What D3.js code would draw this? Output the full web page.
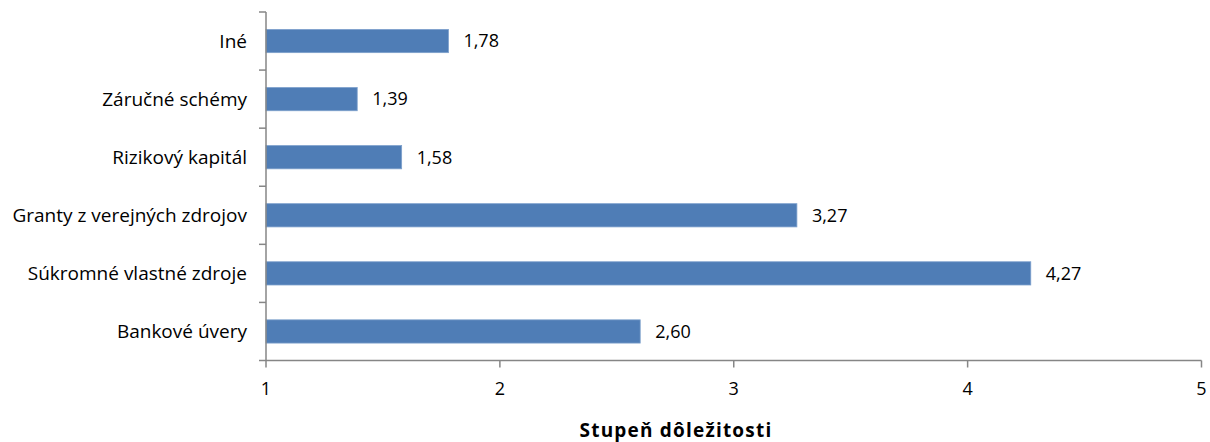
<!DOCTYPE html>
<html><head><meta charset="utf-8">
<script src="https://cdn.jsdelivr.net/npm/d3@7"></script>
<style>body{margin:0;background:#fff}svg text{font-family:"Open Sans","Noto Sans",sans-serif;fill:#000}</style>
</head><body><svg id="c" width="1210" height="442"></svg>
<script>
const categories = ["Iné","Záručné schémy","Rizikový kapitál","Granty z verejných zdrojov","Súkromné vlastné zdroje","Bankové úvery"];
const values = [1.78,1.39,1.58,3.27,4.27,2.60];
const valueLabels = ["1,78","1,39","1,58","3,27","4,27","2,60"];
const xTicks = [1,2,3,4,5];
const axisTitle = "Stupeň dôležitosti";

(function(){
const svg = d3.select("#c");
const mLeft = 266, mRight = 1201.5, mTop = 12, mBottom = 360.5;
const x = d3.scaleLinear().domain([1,5]).range([mLeft,mRight]);
const y = d3.scaleBand().domain(categories).range([mTop,mBottom]).paddingInner(0.6).paddingOuter(0.3);
const band = d3.scaleBand().domain(categories).range([mTop,mBottom]);

svg.selectAll("rect.bar").data(categories).join("rect")
  .attr("x", x(1)).attr("y", d=>y(d))
  .attr("width", (d,i)=>x(values[i])-x(1)).attr("height", y.bandwidth())
  .attr("fill","#4f7db6").attr("stroke","#7da0cc").attr("stroke-width",0.8);

svg.selectAll("text.val").data(categories).join("text")
  .attr("x",(d,i)=>x(values[i])+15).attr("y",d=>y(d)+y.bandwidth()/2)
  .attr("dy","0.35em").attr("font-size",18).text((d,i)=>valueLabels[i]);

const ya = svg.append("g");
ya.append("line").attr("x1",mLeft).attr("x2",mLeft).attr("y1",mTop).attr("y2",mBottom).attr("stroke","#868686").attr("stroke-width",1.5);
const bounds = categories.map(d=>band(d)).concat([mBottom]);
ya.selectAll("line.t").data(bounds).join("line").attr("x1",mLeft-7).attr("x2",mLeft).attr("y1",d=>d).attr("y2",d=>d).attr("stroke","#868686").attr("stroke-width",1.5);
ya.selectAll("text").data(categories).join("text")
  .attr("x",mLeft-19).attr("y",d=>band(d)+band.bandwidth()/2).attr("dy","0.35em")
  .attr("text-anchor","end").attr("font-size",19).text(d=>d);

const xa = svg.append("g");
xa.append("line").attr("x1",mLeft).attr("x2",mRight).attr("y1",mBottom).attr("y2",mBottom).attr("stroke","#868686").attr("stroke-width",1.5);
xa.selectAll("line.t").data(xTicks).join("line").attr("x1",d=>x(d)).attr("x2",d=>x(d)).attr("y1",mBottom).attr("y2",mBottom+7).attr("stroke","#868686").attr("stroke-width",1.5);
xa.selectAll("text").data(xTicks).join("text").attr("x",d=>x(d)).attr("y",395).attr("text-anchor","middle").attr("font-size",18).text(d=>d);

svg.append("text").attr("x",676).attr("y",437).attr("text-anchor","middle").attr("font-size",19).attr("font-weight","bold").attr("letter-spacing","1.2px").text(axisTitle);
})();
</script></body></html>
